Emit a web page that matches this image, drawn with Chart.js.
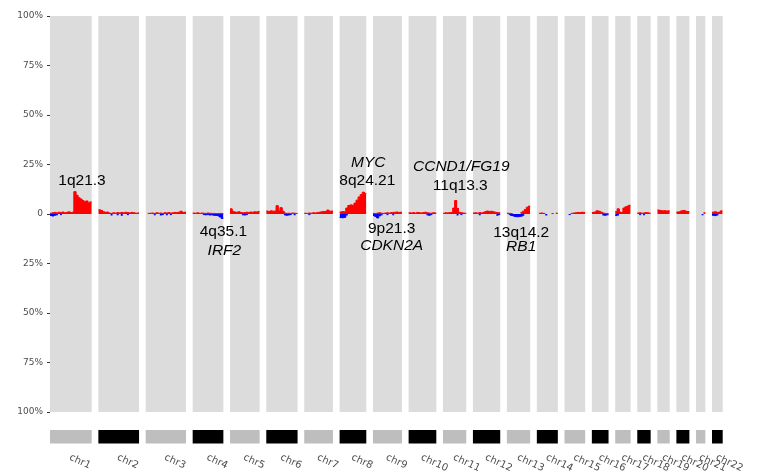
<!DOCTYPE html>
<html>
<head>
<meta charset="utf-8">
<script src="https://cdn.jsdelivr.net/npm/chart.js@4"></script>
<style>
  html, body { margin: 0; padding: 0; background: #ffffff; }
  canvas { display: block; }
</style>
</head>
<body>
<canvas id="cnv" width="761" height="475"></canvas>
<script>
// Chromosome panels (relative widths on the genome axis)
const chromosomes = ['chr1','chr2','chr3','chr4','chr5','chr6','chr7','chr8','chr9','chr10','chr11',
                     'chr12','chr13','chr14','chr15','chr16','chr17','chr18','chr19','chr20','chr21','chr22'];
const chromWidth = [41.7, 40.7, 40.3, 30.7, 29.6, 31.3, 28.7, 26.7, 29.0, 27.7, 23.3,
                    27.3, 23.3, 21.0, 20.7, 16.7, 15.4, 13.4, 12.4, 13.0, 9.3, 10.7];
const chromGap = 6.66;

// Y axis: frequency of samples (%), gains up, losses down
const yTicks = [-100, -75, -50, -25, 0, 25, 50, 75, 100];
const yTickLabels = ['100%', '75%', '50%', '25%', '0', '25%', '50%', '75%', '100%'];

// Gain frequency (%) per bin, one list per chromosome
const gainPct = [
  [0.4,0.6,0.8,0.5,0.9,0.7,1.0,0.6,0.8,1.1,0.7,0.9,11.3,9.5,8.2,7.6,6.8,6.2,6.6,5.6,6.1],
  [2.1,1.8,1.1,0.9,1.0,0.5,0.3,0.6,0.4,0.7,0.5,0.8,0.6,0.9,0.7,0.5,0.8,0.6,0.4,0.5],
  [0,0.3,0.4,0.5,0.3,0.6,0.4,0.5,0.3,0.6,0.5,0.7,0.4,0.6,0.8,0.7,0.9,1.4,0.8,0.9],
  [0.5,0.4,0.6,0.3,0.5,0.4,0.3,0.5,0.4,0.3,0.3,0.2,0.2,0.3,0.2],
  [2.6,1.3,1.0,0.9,1.1,0.8,0.6,0.7,0.9,0.8,1.0,0.9,1.1,1.0,1.3],
  [1.5,1.3,1.6,1.4,1.5,4.2,1.6,3.2,1.4,0.5,0.3,0.4,0.3,0.5,0.4,0.3],
  [0.4,0.3,0.5,0.4,0.6,0.5,0.7,0.9,1.1,1.3,1.2,2.0,1.4,1.5],
  [1.0,1.2,1.1,3.0,4.3,4.6,4.4,5.5,7.0,8.6,9.8,11.0,10.4],
  [0.3,0.2,0.5,0.6,0.4,0.3,0.5,0.6,0.4,0.7,0.8,0.9,1.0,0.8,0.9],
  [0.6,0.5,0.7,0.4,0.8,0.6,0.5,0.7,0.9,0.6,0.5,0.4,0.6,0.5],
  [0.4,0.6,0.5,0.7,0.8,3.0,6.8,2.8,0.9,0.6,0.5,0.4],
  [0.5,0.6,0.4,0.7,0.5,0.8,1.2,1.5,1.3,1.4,1.1,0.9,0.7,0.6],
  [0.4,0.3,0.2,0,0,0,0,0.8,1.4,2.3,3.4,4.0],
  [0,0.4,0.5,0.3,0,0,0,0.2,0,0.4],
  [0,0,0,0.3,0.5,0.6,0.8,0.7,0.9,0.8],
  [0.8,1.0,1.6,1.4,0.9,0.5,0.3,0.2],
  [1.2,2.6,1.0,0.8,3.0,3.6,4.0,4.4],
  [0.5,0.6,0.4,0.5,0.7,0.6,0.4],
  [2.0,1.8,1.6,1.7,1.5,1.6],
  [1.0,1.1,1.6,1.8,1.4,1.2],
  [0,0,0,0,0.6],
  [0.9,1.1,0.8,1.0,1.6]
];

// Loss frequency (%) per bin, one list per chromosome
const lossPct = [
  [-0.8,-1.0,-0.6,-0.4,0,-0.3,0,0,0,0,0,0,0,0,0,0,0,0,0,0,0],
  [0,0,0,0,0,0,-0.5,0,0,-0.4,0,-0.6,0,0,-0.3,0,0,0,0,0],
  [0,0,0,0,-0.4,0,0,-0.5,-0.3,0,-0.4,0,-0.3,0,0,0,0,0,0,0],
  [0,0,0,0,0,-0.3,-0.4,-0.3,-0.5,-0.4,-0.6,-0.7,-0.8,-1.5,-2.2],
  [0,0,0,0,0,0,-0.4,-0.5,-0.3,0,0,0,0,0,0],
  [0,0,0,0,0,0,0,0,0,-0.4,-0.6,-0.5,-0.3,0,-0.4,0],
  [0,0,-0.3,0,0,0,0,0,0,0,0,0,0,0],
  [-1.8,-1.9,-1.7,-0.5,0,0,0,0,0,0,0,0,0],
  [-0.8,-1.2,-2.0,-0.9,-0.4,0,0,-0.3,0,0,-0.4,0,0,0,0],
  [0,0,0,0,0,0,0,0,0,-0.4,-0.6,-0.3,0,0],
  [0,0,0,0,0,0,0,-0.5,0,-0.3,0,0],
  [0,0,0,-0.4,0,0,0,0,0,0,0,0,-0.6,-0.3],
  [0,-0.3,-0.7,-1.0,-1.3,-1.4,-1.3,-1.1,-0.6,0,0,0],
  [0,0,0,0,-0.5,0,0,0,0,0],
  [0,0,-0.3,0,0,0,0,0,0,0],
  [0,0,0,0,0,-0.5,-0.6,-0.4],
  [-0.8,-0.5,0,0,0,0,0,0],
  [0,-0.3,0,-0.4,0,0,0],
  [0,0,0,0,0,0],
  [0,0,0,0,0,0],
  [0,0,0,-0.4,0],
  [-0.6,-0.8,-0.5,0,0]
];

// Cytoband / gene callouts: chromosome, offset inside the panel, height (%)
const callouts = [
  { chrom: 'chr1',  pos: 32.0, y: 14.6,  text: '1q21.3',      italic: false },
  { chrom: 'chr8',  pos: 28.7, y: 23.7,  text: 'MYC',         italic: true  },
  { chrom: 'chr8',  pos: 27.7, y: 14.6,  text: '8q24.21',     italic: false },
  { chrom: 'chr11', pos: 18.3, y: 21.7,  text: 'CCND1/FG19',  italic: true  },
  { chrom: 'chr11', pos: 17.3, y: 12.1,  text: '11q13.3',     italic: false },
  { chrom: 'chr4',  pos: 30.7, y: -11.1, text: '4q35.1',      italic: false },
  { chrom: 'chr4',  pos: 31.7, y: -20.7, text: 'IRF2',        italic: true  },
  { chrom: 'chr9',  pos: 18.7, y: -9.6,  text: '9p21.3',      italic: false },
  { chrom: 'chr9',  pos: 18.7, y: -18.2, text: 'CDKN2A',      italic: true  },
  { chrom: 'chr13', pos: 14.3, y: -11.6, text: '13q14.2',     italic: false },
  { chrom: 'chr13', pos: 14.3, y: -18.7, text: 'RB1',         italic: true  }
];

// Panel start positions along the shared genome axis
const chromStart = [];
let acc = 0;
chromWidth.forEach(w => { chromStart.push(acc); acc += w + chromGap; });
const xMax = acc - chromGap;

// Turn per-bin frequencies into a stepped outline, broken between panels and empty bins
function stepPoints(series) {
  const pts = [];
  series.forEach((vals, c) => {
    const s = chromStart[c];
    const bw = chromWidth[c] / vals.length;
    vals.forEach((v, i) => {
      if (!v) { pts.push({ x: s + i * bw, y: null }); return; }
      pts.push({ x: s + i * bw, y: v }, { x: s + (i + 1) * bw, y: v });
    });
    pts.push({ x: s + chromWidth[c], y: null });
  });
  return pts;
}

const panelBackground = {
  id: 'panelBackground',
  beforeDatasetsDraw(chart) {
    const { ctx, scales: { x, y } } = chart;
    const top = y.getPixelForValue(100), bottom = y.getPixelForValue(-100);
    ctx.save();
    ctx.fillStyle = '#DCDCDC';
    chromStart.forEach((s, i) => {
      const l = x.getPixelForValue(s), r = x.getPixelForValue(s + chromWidth[i]);
      ctx.fillRect(l, top, r - l, bottom - top);
    });
    ctx.restore();
  }
};

const calloutLabels = {
  id: 'calloutLabels',
  afterDatasetsDraw(chart) {
    const { ctx, scales: { x, y } } = chart;
    ctx.save();
    ctx.fillStyle = '#000000';
    ctx.textAlign = 'center';
    ctx.textBaseline = 'alphabetic';
    callouts.forEach(c => {
      const idx = chromosomes.indexOf(c.chrom);
      ctx.font = (c.italic ? 'italic ' : '') + '15.5px "Liberation Sans", Arial, sans-serif';
      ctx.fillText(c.text, x.getPixelForValue(chromStart[idx] + c.pos), y.getPixelForValue(c.y));
    });
    ctx.restore();
  }
};

const chromStrip = {
  id: 'chromStrip',
  afterDraw(chart) {
    const { ctx, chartArea, scales: { x } } = chart;
    const top = chartArea.bottom + 18;
    ctx.save();
    chromStart.forEach((s, i) => {
      const l = x.getPixelForValue(s), r = x.getPixelForValue(s + chromWidth[i]);
      ctx.fillStyle = i % 2 === 0 ? '#BEBEBE' : '#000000';
      ctx.fillRect(l, top, r - l, 13.5);
      const cx = (l + r) / 2;
      ctx.save();
      ctx.translate(cx - 1, chartArea.bottom + 45);
      ctx.rotate(25 * Math.PI / 180);
      ctx.font = '10px "DejaVu Sans", Verdana, sans-serif';
      ctx.fillStyle = '#4D4D4D';
      ctx.textAlign = 'left';
      ctx.textBaseline = 'middle';
      ctx.fillText(chromosomes[i], 0, 0);
      ctx.restore();
    });
    ctx.restore();
  }
};

new Chart(document.getElementById('cnv'), {
  type: 'line',
  data: {
    datasets: [
      {
        label: 'Gain',
        data: stepPoints(gainPct),
        borderColor: '#FF0000',
        backgroundColor: '#FF0000',
        borderWidth: 1,
        fill: 'origin',
        pointRadius: 0,
        spanGaps: false,
        order: 1
      },
      {
        label: 'Loss',
        data: stepPoints(lossPct),
        borderColor: '#0000FF',
        backgroundColor: '#0000FF',
        borderWidth: 1,
        fill: 'origin',
        pointRadius: 0,
        spanGaps: false,
        order: 2
      }
    ]
  },
  options: {
    responsive: false,
    devicePixelRatio: 1,
    animation: false,
    events: [],
    layout: { padding: { left: 0, right: 38.3, top: 16, bottom: 63 } },
    plugins: { legend: { display: false }, tooltip: { enabled: false } },
    scales: {
      x: {
        type: 'linear',
        min: 0,
        max: xMax,
        display: false
      },
      y: {
        min: -100,
        max: 100,
        afterFit(scale) { scale.width = 50; },
        border: { display: false },
        grid: { drawOnChartArea: false, drawTicks: true, tickLength: 3, color: '#333333' },
        ticks: {
          stepSize: 25,
          padding: 4,
          color: '#4D4D4D',
          font: { family: '"DejaVu Sans", Verdana, sans-serif', size: 9 },
          callback: v => yTickLabels[yTicks.indexOf(v)]
        }
      }
    }
  },
  plugins: [panelBackground, calloutLabels, chromStrip]
});
</script>
</body>
</html>
